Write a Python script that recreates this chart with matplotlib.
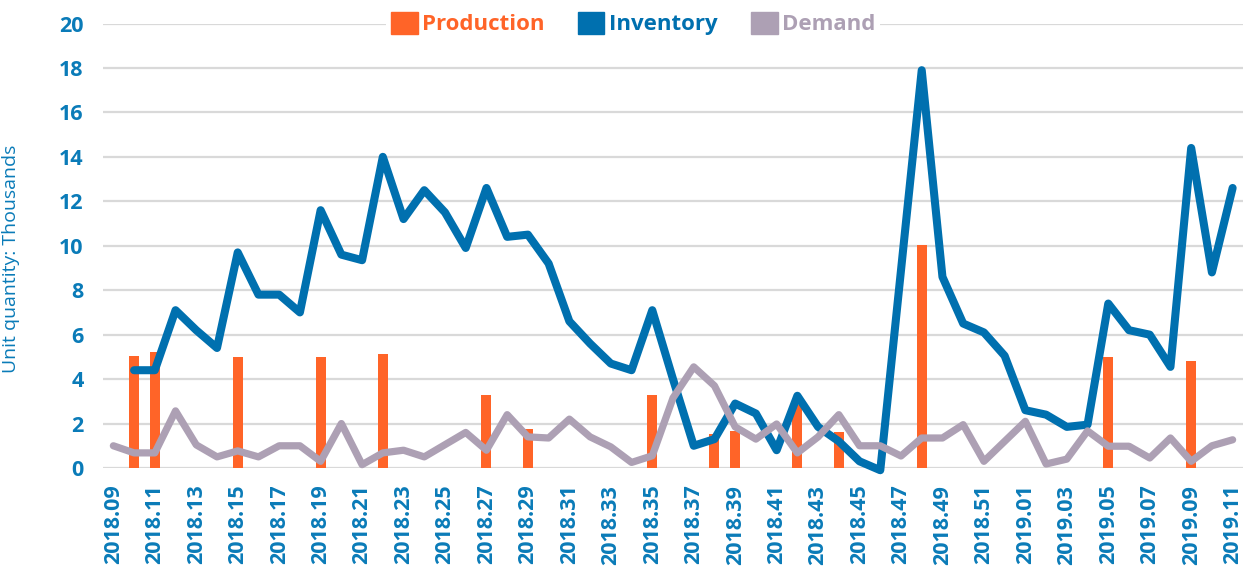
import numpy as np
import matplotlib
matplotlib.use("Agg")
import matplotlib.pyplot as plt
from matplotlib.patches import Patch

# ------------------------------------------------------------
# Data (thousands of units per week)
# ------------------------------------------------------------
WEEKS = [f"2018.{w:02d}" for w in range(9, 53)] + [f"2019.{w:02d}" for w in range(1, 12)]

PROD_WEEKS = ["2018.10", "2018.11", "2018.15", "2018.19", "2018.22", "2018.27",
              "2018.29", "2018.35", "2018.38", "2018.39", "2018.42", "2018.44",
              "2018.48", "2019.05", "2019.09"]
PROD_VALUES = [5.05, 5.2, 5.0, 5.0, 5.15, 3.3, 1.76, 3.3, 1.53, 1.65, 2.85, 1.63,
               10.05, 5.0, 4.82]

INVENTORY = [np.nan, 4.4, 4.4, 7.1, 6.2, 5.4, 9.7, 7.8, 7.8, 7.0,
             11.6, 9.6, 9.35, 14.0, 11.2, 12.5, 11.5, 9.9, 12.6, 10.4,
             10.5, 9.2, 6.6, 5.6, 4.7, 4.4, 7.1, 4.0, 1.0, 1.3,
             2.9, 2.45, 0.8, 3.25, 1.85, 1.2, 0.3, -0.1, 8.9, 17.9,
             8.6, 6.5, 6.1, 5.05, 2.6, 2.4, 1.85, 1.95, 7.4, 6.2,
             6.0, 4.55, 14.4, 8.8, 12.6]

DEMAND = [1.0, 0.68, 0.68, 2.57, 1.04, 0.5, 0.77, 0.5, 1.0, 1.0,
          0.3, 2.0, 0.15, 0.68, 0.8, 0.5, 1.05, 1.6, 0.8, 2.4,
          1.4, 1.35, 2.2, 1.4, 0.95, 0.25, 0.55, 3.15, 4.55, 3.7,
          1.85, 1.3, 1.98, 0.68, 1.4, 2.4, 1.0, 1.0, 0.54, 1.35,
          1.35, 1.95, 0.3, 1.2, 2.1, 0.18, 0.4, 1.67, 0.98, 0.98,
          0.45, 1.35, 0.3, 1.0, 1.27]

ORANGE = "#FF6428"
BLUE = "#0070AF"
GREY = "#ADA0B4"
TICK_BLUE = "#0A7BB8"

plt.rcParams["font.family"] = ["Open Sans", "DejaVu Sans"]

# ------------------------------------------------------------
# Plot
# ------------------------------------------------------------
W, H = 1253, 575
fig = plt.figure(figsize=(W / 100, H / 100), dpi=100)
ax = fig.add_axes([103 / W, 1 - 468 / H, 1140 / W, (468 - 23.5) / H])

x = np.arange(len(WEEKS))
prod_x = [WEEKS.index(w) for w in PROD_WEEKS]

ax.bar(prod_x, PROD_VALUES, width=0.48, color=ORANGE, zorder=2)
ax.plot(x, INVENTORY, color=BLUE, lw=5.8, solid_capstyle="round",
        solid_joinstyle="round", zorder=3, clip_on=False)
ax.plot(x, DEMAND, color=GREY, lw=5.2, solid_capstyle="round",
        solid_joinstyle="round", zorder=4, clip_on=False)

ax.set_xlim(-0.5, len(WEEKS) - 0.5)
ax.set_ylim(0, 20)
ax.set_yticks(np.arange(0, 21, 2))
ax.set_xticks(x[::2])
ax.set_xticklabels(WEEKS[::2], rotation=90)

ax.grid(axis="y", color="#D9D9D9", lw=1.6, zorder=0)
ax.set_axisbelow(True)
for s in ax.spines.values():
    s.set_visible(False)
ax.tick_params(length=0)
ax.tick_params(axis="y", pad=14, labelsize=15.5, labelcolor=TICK_BLUE)
ax.tick_params(axis="x", pad=12, labelsize=15.5, labelcolor=TICK_BLUE)
for t in ax.get_yticklabels():
    t.set_fontweight("bold")
for t in ax.get_xticklabels():
    t.set_fontweight("bold")

ax.set_ylabel("Unit quantity: Thousands", color=TICK_BLUE, fontsize=14)
ax.yaxis.set_label_coords(-0.073, 0.47)

handles = [Patch(color=ORANGE), Patch(color=BLUE), Patch(color=GREY)]
leg = ax.legend(handles, ["Production", "Inventory", "Demand"], ncol=3,
                loc="center", bbox_to_anchor=(0.465, 1.0), frameon=True,
                framealpha=1, edgecolor="none",
                handlelength=1.2, handleheight=1.2, handletextpad=0.2,
                columnspacing=1.5, borderpad=0.2,
                prop={"weight": "bold", "size": 16})
for txt, c in zip(leg.get_texts(), [ORANGE, BLUE, GREY]):
    txt.set_color(c)
leg.set_zorder(10)

fig.savefig("out.png", dpi=100)
